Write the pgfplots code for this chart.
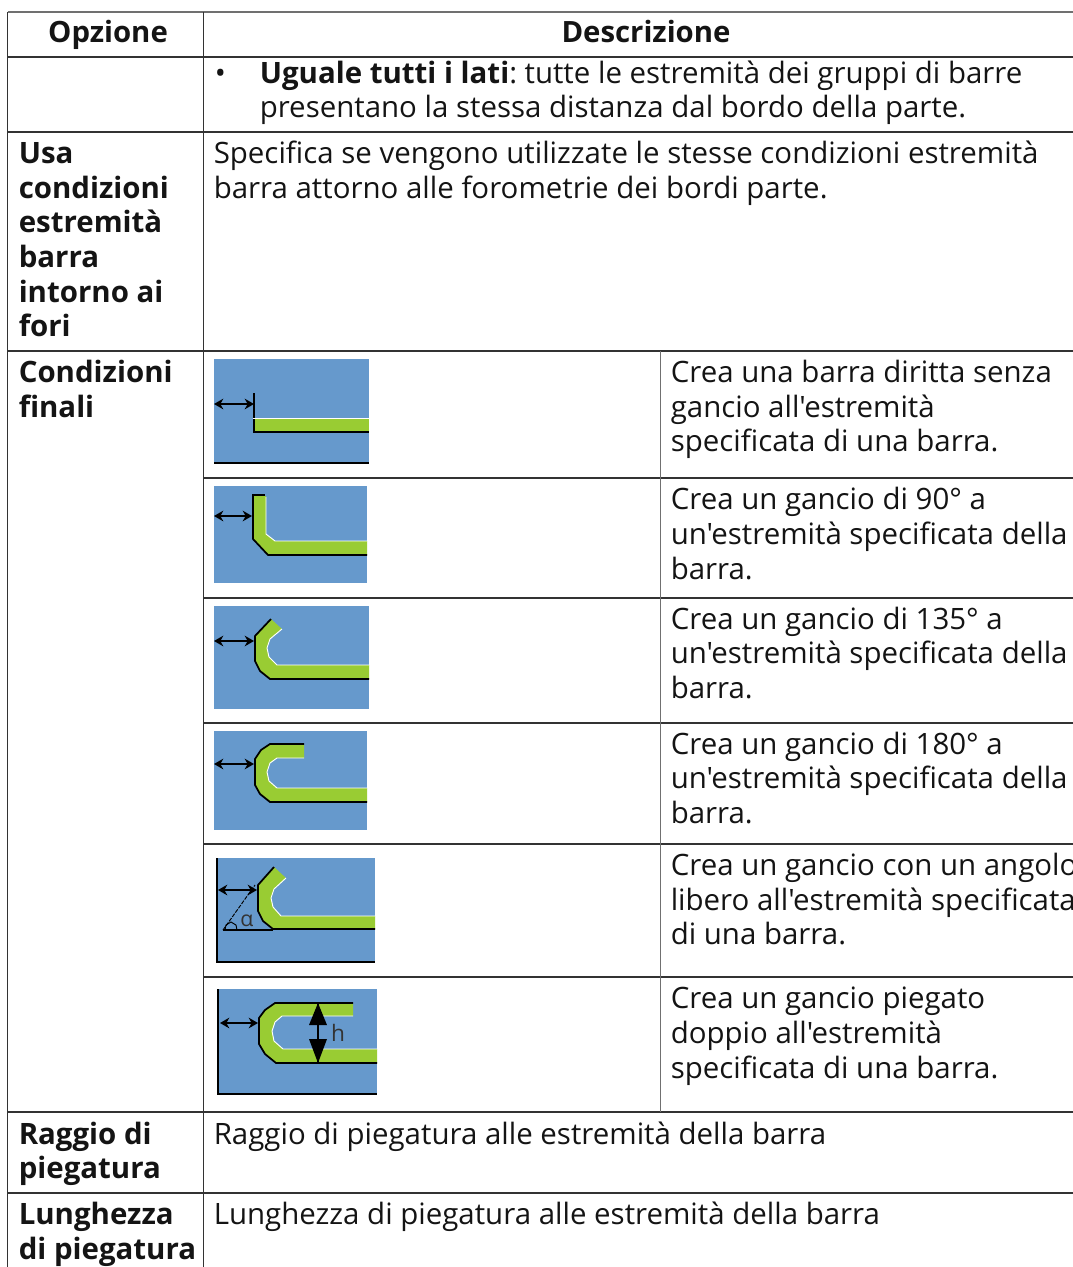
\documentclass[border=0pt]{standalone}
\usepackage{pgfplots}
\pgfplotsset{compat=1.18}
\usepackage{fontspec}
\setmainfont{Open Sans}[Ligatures=TeXOff]
\usetikzlibrary{arrows.meta}
\definecolor{blu}{HTML}{6699CC}
\definecolor{grn}{HTML}{99CC33}
\definecolor{rul}{HTML}{333333}
\newcommand{\T}[3]{\node[anchor=base west,inner sep=0pt,font=\fontsize{22.08}{26}\selectfont,text=black!92] at (axis cs:#1-0.5,#2+1) {#3};}
\newcommand{\C}[3]{\node[anchor=base,inner sep=0pt,font=\fontsize{22}{26}\selectfont\bfseries,text=black!92] at (axis cs:#1,#2) {#3};}
\pgfplotsset{
  arr/.style={black,line width=1.1pt,{Stealth[length=7pt,width=8pt]}-{Stealth[length=7pt,width=8pt]}},
  out/.style={black,line width=1.3pt},
  inn/.style={white,line width=0.7pt},
  rl/.style={rul,line width=0.8pt}}
\begin{document}
\begin{tikzpicture}[x=1pt,y=1pt]
\useasboundingbox (0,0) rectangle (804.75,950.25);
\clip (0,0) rectangle (804.75,950.25);
\begin{axis}[at={(0,0)},anchor=south west,width=804.75pt,height=950.25pt,scale only axis,hide axis,
  xmin=0,xmax=1073,ymin=0,ymax=1267,y dir=reverse,clip=false]
% table rules
\addplot[rul!70,line width=0.9pt] coordinates {(7.5,12)(1073,12)};
\addplot[rl] coordinates {(7.5,57)(1073,57)};
\addplot[rl] coordinates {(7.5,132)(1073,132)};
\addplot[rl] coordinates {(7.5,351)(1073,351)};
\addplot[rl] coordinates {(203.5,478)(1073,478)};
\addplot[rl] coordinates {(203.5,598)(1073,598)};
\addplot[rl] coordinates {(203.5,723)(1073,723)};
\addplot[rl] coordinates {(203.5,844)(1073,844)};
\addplot[rl] coordinates {(203.5,977)(1073,977)};
\addplot[rl] coordinates {(7.5,1112)(1073,1112)};
\addplot[rl] coordinates {(7.5,1193)(1073,1193)};
\addplot[rl] coordinates {(7.5,12)(7.5,1267)};
\addplot[rl] coordinates {(203.5,12)(203.5,1267)};
\addplot[rul!70,line width=0.8pt] coordinates {(660.5,351)(660.5,1112)};
% icon 1
\addplot[fill=blu,draw=none] coordinates {(214,359)(369,359)(369,464)(214,464)} --cycle;
\addplot[black,line width=1.3pt] coordinates {(214,463)(369,463)};
\addplot[fill=grn,draw=none] coordinates {(254,418)(369,418)(369,432)(254,432)} --cycle;
\addplot[out] coordinates {(254,393)(254,432)(369,432)};
\addplot[inn] coordinates {(253,418)(369,418)};
\addplot[arr] coordinates {(214,404)(254,404)};
% icon 2
\addplot[fill=blu,draw=none] coordinates {(214,486)(367,486)(367,583)(214,583)} --cycle;
\addplot[fill=grn,draw=none] coordinates {(253,496)(266,496)(266,534)(275,541)(367,541)(367,555)(268,555)(253,539)} --cycle;
\addplot[out] coordinates {(253,496)(253,539)(268,555)(367,555)};
\addplot[black,line width=2.2pt] coordinates {(252,495)(265,495)};
\addplot[inn] coordinates {(266,497)(266,534)(275,541)(367,541)};
\addplot[arr] coordinates {(214,516)(252,516)};
% icon 3
\addplot[fill=blu,draw=none] coordinates {(214,606)(369,606)(369,709)(214,709)} --cycle;
\addplot[fill=grn,draw=none] coordinates {(271,619)(282,629)(270,639)(267,648)(269,657)(277,665)(369,665)(369,679)(270,679)(260,671)(255,661)(255,636)} --cycle;
\addplot[out] coordinates {(271,619)(255,636)(255,661)(260,671)(270,679)(369,679)};
\addplot[inn] coordinates {(282,629)(270,639)(267,648)(269,657)(277,665)(369,665)};
\addplot[arr] coordinates {(214,641)(254,641)};
% icon 4
\addplot[fill=blu,draw=none] coordinates {(214,731)(367,731)(367,830)(214,830)} --cycle;
\addplot[fill=grn,draw=none] coordinates {(270,744)(304,744)(304,758)(277,758)(270,763)(267,772)(269,781)(277,788)(367,788)(367,802)(270,802)(260,794)(255,785)(255,759)(261,750)} --cycle;
\addplot[out] coordinates {(304,744)(270,744)(261,750)(255,759)(255,785)(260,794)(270,802)(367,802)};
\addplot[inn] coordinates {(304,758)(277,758)(270,763)(267,772)(269,781)(277,788)(367,788)};
\addplot[arr] coordinates {(214,764)(254,764)};
% icon 5
\addplot[fill=blu,draw=none] coordinates {(216,858)(375,858)(375,963)(216,963)} --cycle;
\addplot[out] coordinates {(217,858)(217,962)(375,962)};
\addplot[fill=grn,draw=none] coordinates {(274,867)(286,878)(274,889)(271,898)(273,907)(281,916)(375,916)(375,929)(273,929)(263,921)(258,911)(258,885)} --cycle;
\addplot[out] coordinates {(274,867)(258,885)(258,911)(263,921)(273,929)(375,929)};
\addplot[inn] coordinates {(286,878)(274,889)(271,898)(273,907)(281,916)(375,916)};
\addplot[black,line width=0.8pt] coordinates {(223,930)(273,930)};
\addplot[black,line width=0.7pt,dash pattern=on 3pt off 1pt] coordinates {(223,930)(255,885)};
\addplot[black,line width=0.7pt] coordinates {(225,930)(226,925)(231,922)(236,925)(237,930)};
\addplot[arr] coordinates {(218,890)(257,890)};
% icon 6
\addplot[fill=blu,draw=none] coordinates {(218,989)(377,989)(377,1095)(218,1095)} --cycle;
\addplot[out] coordinates {(218,989)(218,1094)(377,1094)};
\addplot[fill=grn,draw=none] coordinates {(275,1003)(353,1003)(353,1016)(282,1016)(275,1022)(272,1031)(274,1041)(283,1049)(377,1049)(377,1063)(276,1063)(265,1054)(259,1044)(259,1018)(265,1010)} --cycle;
\addplot[out] coordinates {(353,1003)(275,1003)(265,1010)(259,1018)(259,1044)(265,1054)(276,1063)(377,1063)};
\addplot[inn] coordinates {(353,1016)(282,1016)(275,1022)(272,1031)(274,1041)(283,1049)(377,1049)};
\addplot[arr] coordinates {(220,1023)(258,1023)};
\addplot[black,line width=0.9pt] coordinates {(318,1003)(318,1063)};
\addplot[fill=black,draw=none] coordinates {(318,1003)(327,1025)(309,1025)} --cycle;
\addplot[fill=black,draw=none] coordinates {(318,1063)(327,1039)(309,1039)} --cycle;
% icon letters
\node[anchor=base,inner sep=0pt,font=\fontsize{16}{16}\selectfont,text=rul] at (axis cs:247,926) {α};
\node[anchor=base,inner sep=0pt,font=\fontsize{17}{17}\selectfont,text=rul] at (axis cs:338,1041) {h};
% text
\C{108}{42}{Opzione}
\C{646}{42}{Descrizione}
\T{215}{82}{•}
\T{260}{82}{\textbf{Uguale tutti i lati}:\hspace{-2pt} tutte le estremità dei gruppi di barre}
\T{260}{116}{presentano la stessa distanza dal bordo della parte.}
\T{19}{162}{\textbf{Usa}}
\T{19}{197}{\textbf{condizioni}}
\T{19}{231}{\textbf{estremità}}
\T{19}{266}{\textbf{barra}}
\T{19}{301}{\textbf{intorno ai}}
\T{19}{335}{\textbf{fori}}
\T{214}{162}{Specifica se vengono utilizzate le stesse condizioni estremità}
\T{214}{197}{barra attorno alle forometrie dei bordi parte.}
\T{19}{381}{\textbf{Condizioni}}
\T{19}{416}{\textbf{finali}}
\T{671}{381}{Crea una barra diritta senza}
\T{671}{416}{gancio all'estremità}
\T{671}{450}{specificata di una barra.}
\T{671}{508}{Crea un gancio di 90° a}
\T{671}{543}{un'estremità specificata della}
\T{671}{578}{barra.}
\T{671}{628}{Crea un gancio di 135° a}
\T{671}{662}{un'estremità specificata della}
\T{671}{697}{barra.}
\T{671}{753}{Crea un gancio di 180° a}
\T{671}{787}{un'estremità specificata della}
\T{671}{822}{barra.}
\T{671}{874}{Crea un gancio con un angolo}
\T{671}{909}{libero all'estremità specificata}
\T{671}{943}{di una barra.}
\T{671}{1007}{Crea un gancio piegato}
\T{671}{1042}{doppio all'estremità}
\T{671}{1077}{specificata di una barra.}
\T{19}{1143}{\textbf{Raggio di}}
\T{19}{1177}{\textbf{piegatura}}
\T{214}{1143}{Raggio di piegatura alle estremità della barra}
\T{19}{1223}{\textbf{Lunghezza}}
\T{19}{1258}{\textbf{di piegatura}}
\T{214}{1223}{Lunghezza di piegatura alle estremità della barra}
\end{axis}
\end{tikzpicture}
\end{document}
